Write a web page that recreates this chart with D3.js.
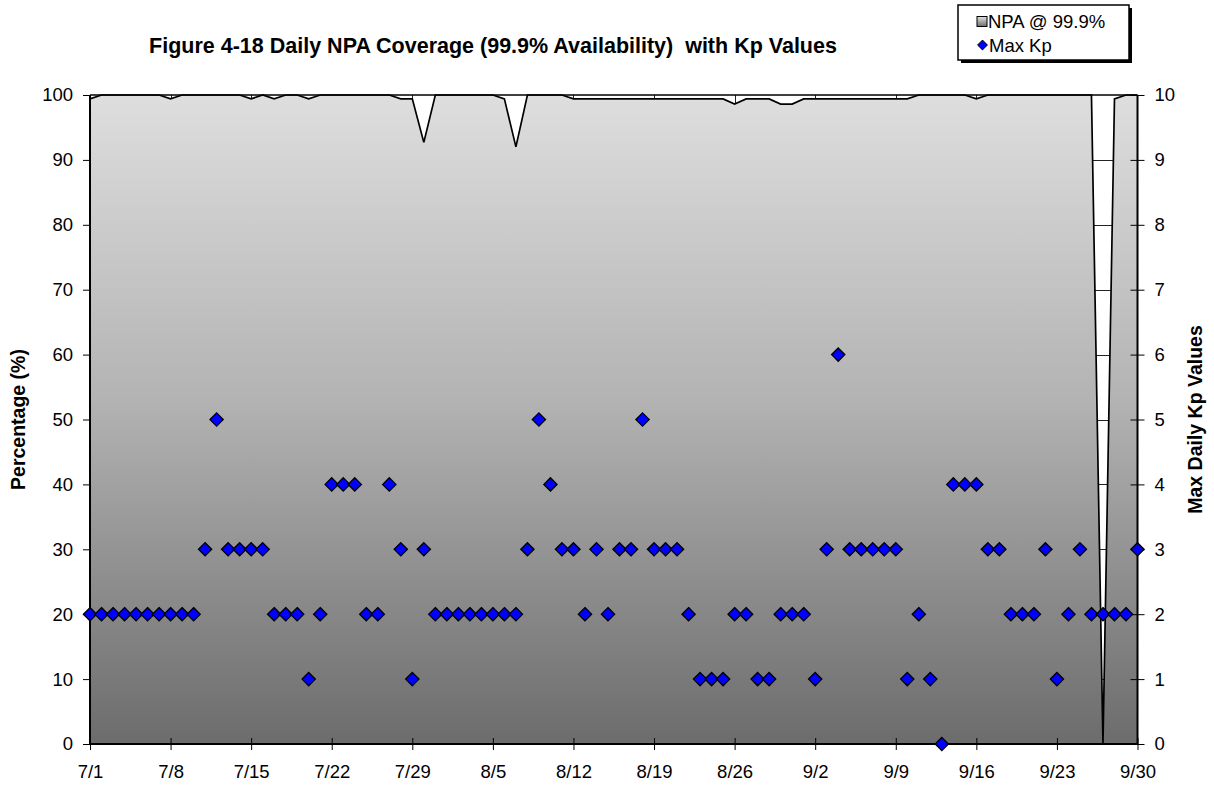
<!DOCTYPE html>
<html>
<head>
<meta charset="utf-8">
<script src="https://cdn.jsdelivr.net/npm/d3@7"></script>
<style>
  html, body { margin: 0; padding: 0; background: #fff; }
  svg { display: block; font-family: "Liberation Sans", Arial, sans-serif; }
  text { white-space: pre; }
</style>
</head>
<body>
<svg id="chart" width="1214" height="789"></svg>
<script>
// Daily values, 1 July - 30 September
const startDate = new Date(2003, 6, 1);
const endDate = new Date(2003, 8, 30);

// NPA coverage (%) at 99.9% availability
const npaValues = [
  99.4, 100, 100, 100, 100, 100, 100, 99.4, 100, 100,
  100, 100, 100, 100, 99.4, 100, 99.4, 100, 100, 99.4,
  100, 100, 100, 100, 100, 100, 100, 99.4, 99.4, 92.7,
  100, 100, 100, 100, 100, 100, 99.4, 92.0, 100, 100,
  100, 100, 99.4, 99.4, 99.4, 99.4, 99.4, 99.4, 99.4, 99.4,
  99.4, 99.4, 99.4, 99.4, 99.4, 99.4, 98.6, 99.4, 99.4, 99.4,
  98.6, 98.6, 99.4, 99.4, 99.4, 99.4, 99.4, 99.4, 99.4, 99.4,
  99.4, 99.4, 100, 100, 100, 100, 100, 99.4, 100, 100,
  100, 100, 100, 100, 100, 100, 100, 100, 0, 99.4,
  100, 100
];

// Maximum daily Kp index
const kpValues = [
  2, 2, 2, 2, 2, 2, 2, 2, 2, 2,
  3, 5, 3, 3, 3, 3, 2, 2, 2, 1,
  2, 4, 4, 4, 2, 2, 4, 3, 1, 3,
  2, 2, 2, 2, 2, 2, 2, 2, 3, 5,
  4, 3, 3, 2, 3, 2, 3, 3, 5, 3,
  3, 3, 2, 1, 1, 1, 2, 2, 1, 1,
  2, 2, 2, 1, 3, 6, 3, 3, 3, 3,
  3, 1, 2, 1, 0, 4, 4, 4, 3, 3,
  2, 2, 2, 3, 1, 2, 3, 2, 2, 2,
  2, 3
];

const leftTicks = [0, 10, 20, 30, 40, 50, 60, 70, 80, 90, 100];
const rightTicks = [0, 1, 2, 3, 4, 5, 6, 7, 8, 9, 10];
const dateTickLabels = ["7/1", "7/8", "7/15", "7/22", "7/29", "8/5", "8/12",
  "8/19", "8/26", "9/2", "9/9", "9/16", "9/23", "9/30"];

const titleText = "Figure 4-18 Daily NPA Coverage (99.9% Availability)  with Kp Values";
const leftAxisTitle = "Percentage (%)";
const rightAxisTitle = "Max Daily Kp Values";
const legendLabels = ["NPA @ 99.9%", "Max Kp"];

const dates = npaValues.map((_, i) => d3.timeDay.offset(startDate, i));
const dateTicks = dateTickLabels.map((_, i) => d3.timeDay.offset(startDate, i * 7));

const svg = d3.select("#chart");
const plot = { left: 90, right: 1137.5, top: 95, bottom: 744 };

const x = d3.scaleTime().domain([startDate, endDate]).range([plot.left, plot.right]);
const yLeft = d3.scaleLinear().domain([0, 100]).range([plot.bottom, plot.top]);
const yRight = d3.scaleLinear().domain([0, 10]).range([plot.bottom, plot.top]);

// gradient fill for the coverage area
const defs = svg.append("defs");
const grad = defs.append("linearGradient")
  .attr("id", "areaFill")
  .attr("gradientUnits", "userSpaceOnUse")
  .attr("x1", 0).attr("x2", 0)
  .attr("y1", plot.top).attr("y2", plot.bottom);
grad.append("stop").attr("offset", 0).attr("stop-color", "#dedede");
grad.append("stop").attr("offset", 0.47).attr("stop-color", "#b3b3b3");
grad.append("stop").attr("offset", 1).attr("stop-color", "#6c6c6c");

const legendGrad = defs.append("linearGradient")
  .attr("id", "legendFill")
  .attr("x1", 0).attr("x2", 0).attr("y1", 0).attr("y2", 1);
legendGrad.append("stop").attr("offset", 0).attr("stop-color", "#e4e4e4");
legendGrad.append("stop").attr("offset", 1).attr("stop-color", "#6c6c6c");

// gridlines (visible only where the area dips)
const grid = svg.append("g").attr("stroke", "#222").attr("stroke-width", 1);
grid.selectAll("line.h").data(leftTicks.slice(1, -1)).join("line")
  .attr("x1", plot.left).attr("x2", plot.right)
  .attr("y1", d => Math.round(yLeft(d)) + 0.5).attr("y2", d => Math.round(yLeft(d)) + 0.5);
grid.selectAll("line.v").data(dateTicks.slice(1, -1)).join("line")
  .attr("x1", d => Math.round(x(d)) + 0.5).attr("x2", d => Math.round(x(d)) + 0.5)
  .attr("y1", plot.top).attr("y2", plot.bottom);

// NPA coverage area
const area = d3.area()
  .x((d, i) => x(dates[i]))
  .y0(plot.bottom)
  .y1(d => yLeft(d));
svg.append("path")
  .datum(npaValues)
  .attr("d", area)
  .attr("fill", "url(#areaFill)");
const line = d3.line()
  .x((d, i) => x(dates[i]))
  .y(d => yLeft(d));
svg.append("path")
  .datum(npaValues)
  .attr("d", line)
  .attr("fill", "none")
  .attr("stroke", "#000")
  .attr("stroke-width", 1.7)
  .attr("stroke-linejoin", "miter");

// top border of the plot
svg.append("line")
  .attr("x1", plot.left).attr("x2", plot.right)
  .attr("y1", plot.top).attr("y2", plot.top)
  .attr("stroke", "#000").attr("stroke-width", 1.7);

// axes
const fontSize = 18.5;
const axisLeft = svg.append("g")
  .attr("transform", `translate(${plot.left},0)`)
  .call(d3.axisLeft(yLeft).tickValues(leftTicks).tickSize(7).tickPadding(10));
const axisRight = svg.append("g")
  .attr("transform", `translate(${plot.right},0)`)
  .call(d3.axisRight(yRight).tickValues(rightTicks).tickSize(7).tickPadding(10));
axisRight.selectAll(".tick line").attr("x1", -7);
const axisBottom = svg.append("g")
  .attr("transform", `translate(0,${plot.bottom})`)
  .call(d3.axisBottom(x).tickValues(dateTicks)
    .tickFormat((d, i) => dateTickLabels[i]).tickSize(6).tickPadding(15));
axisBottom.selectAll(".tick line").attr("y1", -6);

[axisLeft, axisRight, axisBottom].forEach(g => {
  g.selectAll(".domain").attr("stroke", "#000").attr("stroke-width", 2);
  g.selectAll(".tick line").attr("stroke", "#000").attr("stroke-width", 1);
  g.selectAll(".tick text")
    .attr("font-family", "'Liberation Sans', Arial, sans-serif")
    .attr("font-size", fontSize).attr("fill", "#000");
});
axisLeft.select(".domain").attr("d", `M0,${plot.top}V${plot.bottom}`);
axisRight.select(".domain").attr("d", `M0,${plot.top}V${plot.bottom}`);
axisBottom.select(".domain").attr("d", `M${plot.left},0H${plot.right}`);

// Kp markers on the secondary axis
const diamond = d3.symbol().type(d3.symbolDiamond2).size(112);
svg.append("g")
  .selectAll("path")
  .data(kpValues)
  .join("path")
  .attr("d", diamond)
  .attr("transform", (d, i) => `translate(${x(dates[i])},${yRight(d)})`)
  .attr("fill", "#0000ff")
  .attr("stroke", "#000")
  .attr("stroke-width", 1.3);

// titles
svg.append("text")
  .attr("x", 493).attr("y", 53)
  .attr("text-anchor", "middle")
  .attr("font-weight", "bold")
  .attr("font-size", 21.5)
  .text(titleText);
svg.append("text")
  .attr("transform", `translate(25,${(plot.top + plot.bottom) / 2}) rotate(-90)`)
  .attr("text-anchor", "middle")
  .attr("font-weight", "bold")
  .attr("font-size", 19.5)
  .text(leftAxisTitle);
svg.append("text")
  .attr("transform", `translate(1202,${(plot.top + plot.bottom) / 2}) rotate(-90)`)
  .attr("text-anchor", "middle")
  .attr("font-weight", "bold")
  .attr("font-size", 19.5)
  .text(rightAxisTitle);

// legend
const legend = svg.append("g").attr("transform", "translate(958,5)");
legend.append("rect")
  .attr("x", 3).attr("y", 3).attr("width", 171).attr("height", 55)
  .attr("fill", "#000");
legend.append("rect")
  .attr("x", 0).attr("y", 0).attr("width", 171).attr("height", 55)
  .attr("fill", "#fff").attr("stroke", "#000").attr("stroke-width", 1.5);
legend.append("rect")
  .attr("x", 19).attr("y", 11.5).attr("width", 10).attr("height", 10)
  .attr("fill", "url(#legendFill)").attr("stroke", "#000").attr("stroke-width", 1);
legend.append("path")
  .attr("d", d3.symbol().type(d3.symbolDiamond2).size(62))
  .attr("transform", "translate(24.5,40)")
  .attr("fill", "#0000ff").attr("stroke", "#000").attr("stroke-width", 1);
legend.selectAll("text.lg").data(legendLabels).join("text")
  .attr("x", (d, i) => i === 0 ? 30 : 31)
  .attr("y", (d, i) => i === 0 ? 23 : 47)
  .attr("font-size", 18.5)
  .text(d => d);
</script>
</body>
</html>
